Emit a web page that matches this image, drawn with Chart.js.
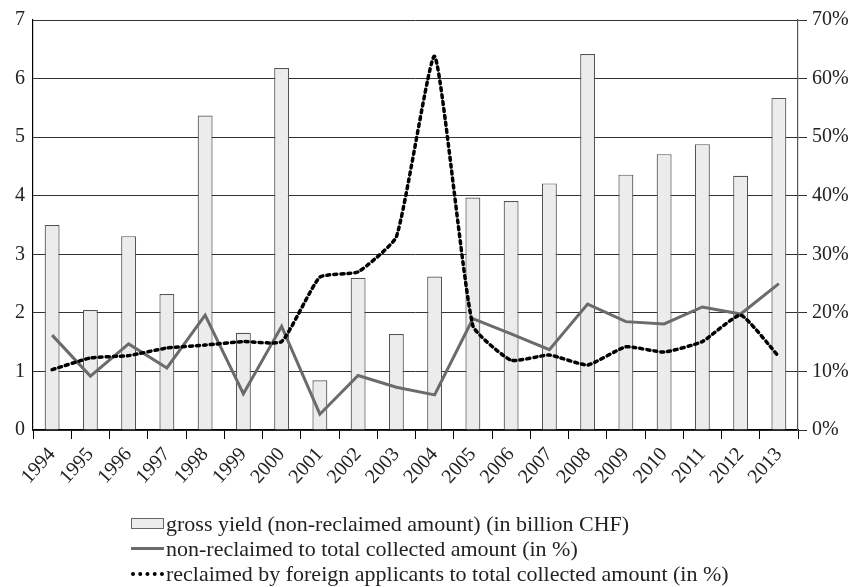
<!DOCTYPE html>
<html>
<head>
<meta charset="utf-8">
<script src="https://cdn.jsdelivr.net/npm/chart.js@4"></script>
<style>
  html, body { margin: 0; padding: 0; background: #fff; }
  #wrap { position: relative; width: 856px; height: 587px; }
  #legend { position: absolute; left: 131px; top: 511px; font-family: "Liberation Serif", serif; font-size: 22px; color: #222; line-height: 25px; }
  .item { display: flex; align-items: center; height: 25px; white-space: nowrap; }
  .mk { width: 33px; margin-right: 2px; box-sizing: border-box; }
  .mk.bar { height: 11px; background: #ececec; border: 1px solid #666; }
  .mk.solid { height: 3px; background: #6b6b6b; }
  .mk.dot { height: 0; border-top: 4px dotted #000; }
</style>
</head>
<body>
<div id="wrap">
  <canvas id="c" width="856" height="587"></canvas>
  <div id="legend"></div>
</div>
<script>
const years = ["1994","1995","1996","1997","1998","1999","2000","2001","2002","2003","2004","2005","2006","2007","2008","2009","2010","2011","2012","2013"];
const grossYield = [3.50, 2.05, 3.31, 2.32, 5.37, 1.66, 6.18, 0.85, 2.60, 1.64, 2.62, 3.97, 3.91, 4.21, 6.42, 4.36, 4.71, 4.88, 4.34, 5.67];
const nonReclaimedPct = [16.2, 9.2, 14.7, 10.6, 19.6, 6.2, 17.7, 2.7, 9.3, 7.3, 6.0, 19.0, 16.4, 13.7, 21.5, 18.5, 18.1, 21.0, 19.8, 25.0];
const foreignPct = [10.3, 12.3, 12.7, 14.0, 14.5, 15.1, 15.1, 26.1, 27.0, 33.0, 63.8, 17.8, 11.9, 12.8, 11.1, 14.2, 13.3, 15.1, 19.6, 12.5];
const leftTicks = [0, 1, 2, 3, 4, 5, 6, 7];
const rightTicks = [0, 10, 20, 30, 40, 50, 60, 70];
const labels = [
  "gross yield (non-reclaimed amount) (in billion CHF)",
  "non-reclaimed to total collected amount (in %)",
  "reclaimed by foreign applicants to total collected amount (in %)"
];

const FONT = { family: "'Liberation Serif', serif", size: 20 };

const chart = new Chart(document.getElementById('c'), {
  type: 'bar',
  data: {
    labels: years,
    datasets: [
      {
        type: 'bar', label: labels[0], data: grossYield, yAxisID: 'y',
        backgroundColor: '#ececec', borderColor: '#555', borderWidth: 1.2,
        barPercentage: 0.39, categoryPercentage: 1, order: 2
      },
      {
        type: 'line', label: labels[1], data: nonReclaimedPct, yAxisID: 'y1',
        borderColor: '#6b6b6b', borderWidth: 3, pointRadius: 0, tension: 0, order: 1
      },
      {
        type: 'line', label: labels[2], data: foreignPct, yAxisID: 'y1',
        borderColor: '#000', borderWidth: 3.5, borderDash: [3, 4], borderCapStyle: 'round',
        pointRadius: 0, tension: 0.15, order: 0
      }
    ]
  },
  options: {
    responsive: false,
    animation: false,
    layout: { padding: { top: 17, bottom: 0, left: 0, right: 0 } },
    plugins: { legend: { display: false }, tooltip: { enabled: false } },
    scales: {
      x: {
        offset: true,
        grid: { display: true, drawOnChartArea: false, drawTicks: true, tickLength: 9, color: '#000', offset: true },
        border: { color: '#000', width: 1.2 },
        ticks: { color: '#222', font: FONT, minRotation: 48, maxRotation: 48, padding: 4, autoSkip: false },
        afterFit: s => { s.height = 157; }
      },
      y: {
        position: 'left', min: 0, max: 7,
        afterBuildTicks: s => { s.ticks = leftTicks.map(v => ({ value: v })); },
        grid: { color: '#333', lineWidth: 1, drawTicks: false },
        border: { color: '#000', width: 1.2 },
        ticks: { color: '#222', font: FONT, padding: 8 },
        afterFit: s => { s.width = 33; }
      },
      y1: {
        position: 'right', min: 0, max: 70,
        afterBuildTicks: s => { s.ticks = rightTicks.map(v => ({ value: v })); },
        grid: { drawOnChartArea: false, drawTicks: true, tickLength: 9, color: '#333' },
        border: { color: '#555', width: 1.2 },
        ticks: { color: '#222', font: FONT, padding: 5, callback: v => v + '%' },
        afterFit: s => { s.width = 58; }
      }
    }
  }
});

const lg = document.getElementById('legend');
const kinds = ['bar', 'solid', 'dot'];
chart.data.datasets.forEach((ds, i) => {
  const row = document.createElement('div');
  row.className = 'item';
  const mk = document.createElement('span');
  mk.className = 'mk ' + kinds[i];
  const tx = document.createElement('span');
  tx.textContent = ds.label;
  row.appendChild(mk); row.appendChild(tx);
  lg.appendChild(row);
});
</script>
</body>
</html>
